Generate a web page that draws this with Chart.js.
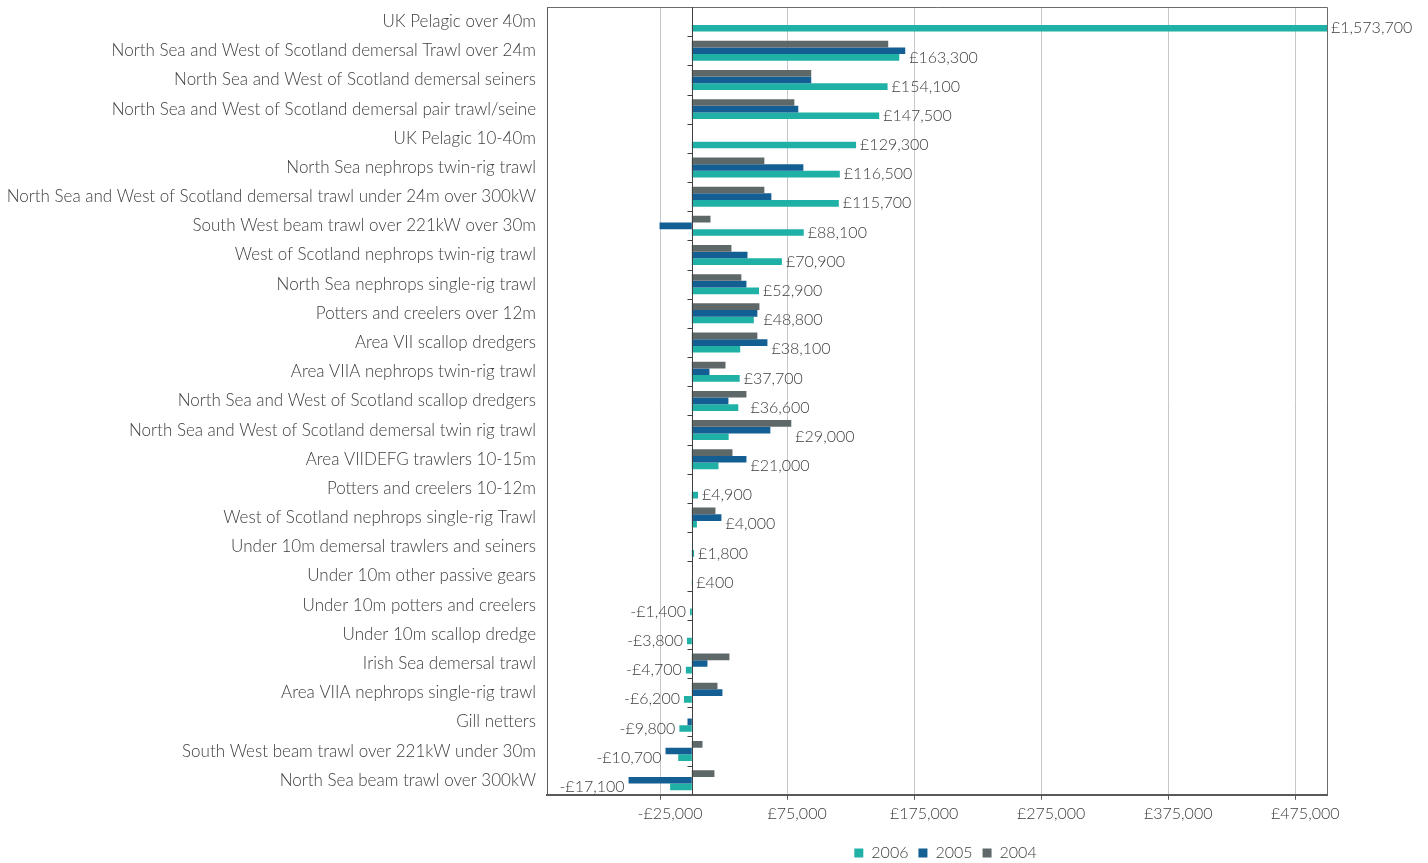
<!DOCTYPE html>
<html>
<head>
<meta charset="utf-8">
<title>Change in earnings by fleet segment</title>
<script src="https://cdn.jsdelivr.net/npm/chart.js"></script>
<style>
  html, body { margin: 0; padding: 0; background: #fff; }
  #wrap { width: 1428px; height: 863px; }
</style>
</head>
<body>
<div id="wrap"><canvas id="chart"></canvas></div>
<script>
// fleet segments, top to bottom as in the source chart
const categories = [
  'UK Pelagic over 40m',
  'North Sea and West of Scotland demersal Trawl over 24m',
  'North Sea and West of Scotland demersal seiners',
  'North Sea and West of Scotland demersal pair trawl/seine',
  'UK Pelagic 10-40m',
  'North Sea nephrops twin-rig trawl',
  'North Sea and West of Scotland demersal trawl under 24m over 300kW',
  'South West beam trawl over 221kW over 30m',
  'West of Scotland nephrops twin-rig trawl',
  'North Sea nephrops single-rig trawl',
  'Potters and creelers over 12m',
  'Area VII scallop dredgers',
  'Area VIIA nephrops twin-rig trawl',
  'North Sea and West of Scotland scallop dredgers',
  'North Sea and West of Scotland demersal twin rig trawl',
  'Area VIIDEFG trawlers 10-15m',
  'Potters and creelers 10-12m',
  'West of Scotland nephrops single-rig Trawl',
  'Under 10m demersal trawlers and seiners',
  'Under 10m other passive gears',
  'Under 10m potters and creelers',
  'Under 10m scallop dredge',
  'Irish Sea demersal trawl',
  'Area VIIA nephrops single-rig trawl',
  'Gill netters',
  'South West beam trawl over 221kW under 30m',
  'North Sea beam trawl over 300kW'
];

const values2006 = [1573700, 163300, 154100, 147500, 129300, 116500, 115700, 88100, 70900, 52900,
  48800, 38100, 37700, 36600, 29000, 21000, 4900, 4000, 1800, 400,
  -1400, -3800, -4700, -6200, -9800, -10700, -17100];
const values2005 = [null, 168000, 94000, 83800, null, 87800, 62600, -25400, 43800, 43000,
  51600, 59500, 13900, 28800, 61800, 43000, null, 23300, null, null,
  null, null, 12300, 24100, -3400, -20700, -49800];
const values2004 = [null, 154600, 94000, 80700, null, 57100, 57100, 14700, 31200, 39000,
  53200, 51600, 26500, 43000, 78300, 32000, null, 18600, null, null,
  null, null, 29600, 20200, null, 8400, 17800];

const seriesNames = ['2004', '2005', '2006'];
const xTicks = [-25000, 75000, 175000, 275000, 375000, 475000];
const xMin = -114000;
const xMax = 500000;

const teal = '#20B1A6';
const blue = '#135E92';
const grey = '#5F6869';
const textGrey = '#404040';
const fontFamily = 'Lato, "Open Sans", sans-serif';

function money(v) {
  return (v < 0 ? '-£' : '£') + Math.abs(v).toLocaleString('en-GB');
}

// plot frame, zero axis with its category ticks
const frame = {
  id: 'frame',
  afterLayout(chart) {
    // legend sits under the plot area rather than the whole canvas
    const lg = chart.legend;
    lg.left = 564;
    lg.right = chart.chartArea.right;
    lg.top += 8;
    lg.bottom += 8;
  },
  beforeDatasetsDraw(chart) {
    const ctx = chart.ctx, a = chart.chartArea;
    ctx.save();
    ctx.strokeStyle = '#6b6b6b';
    ctx.lineWidth = 1;
    ctx.beginPath();
    ctx.moveTo(a.left, a.top + 0.5);
    ctx.lineTo(a.right + 0.5, a.top + 0.5);
    ctx.lineTo(a.right + 0.5, a.bottom);
    ctx.stroke();
    ctx.restore();
  },
  afterDatasetsDraw(chart) {
    const ctx = chart.ctx, a = chart.chartArea;
    const x0 = Math.round(chart.scales.x.getPixelForValue(0)) + 0.5;
    const step = (a.bottom - a.top) / categories.length;
    ctx.save();
    ctx.strokeStyle = '#404040';
    ctx.lineWidth = 1;
    ctx.beginPath();
    ctx.moveTo(x0, a.top);
    ctx.lineTo(x0, a.bottom);
    for (let i = 1; i < categories.length; i++) {
      const y = Math.round(a.top + i * step) + 0.5;
      ctx.moveTo(x0 - 5, y);
      ctx.lineTo(x0, y);
    }
    ctx.stroke();
    ctx.restore();
  }
};

// labels for 2006, pushed past the longest bar of each group
const valueLabels = {
  id: 'valueLabels',
  afterDatasetsDraw(chart) {
    const ctx = chart.ctx, a = chart.chartArea, xs = chart.scales.x;
    const meta = chart.getDatasetMeta(2);
    ctx.save();
    ctx.font = '300 16px ' + fontFamily;
    ctx.fillStyle = textGrey;
    ctx.textBaseline = 'middle';
    meta.data.forEach((bar, i) => {
      const v = values2006[i];
      const ends = [values2004[i], values2005[i], v]
        .filter(d => d !== null)
        .map(d => Math.min(xs.getPixelForValue(d), a.right));
      if (v >= 0) {
        ctx.textAlign = 'left';
        ctx.fillText(money(v), Math.max(...ends) + 4, bar.y);
      } else {
        ctx.textAlign = 'right';
        ctx.fillText(money(v), Math.min(...ends) - 4, bar.y);
      }
    });
    ctx.restore();
  }
};

new Chart(document.getElementById('chart'), {
  type: 'bar',
  data: {
    labels: categories,
    datasets: [
      { label: seriesNames[0], data: values2004, backgroundColor: grey },
      { label: seriesNames[1], data: values2005, backgroundColor: blue },
      { label: seriesNames[2], data: values2006, backgroundColor: teal }
    ]
  },
  options: {
    indexAxis: 'y',
    responsive: true,
    maintainAspectRatio: false,
    animation: false,
    categoryPercentage: 0.685,
    barPercentage: 1,
    layout: { padding: { top: 7, right: 101, left: 0, bottom: 0 } },
    scales: {
      x: {
        min: xMin,
        max: xMax,
        afterBuildTicks: s => { s.ticks = xTicks.map(v => ({ value: v })); },
        grid: { color: '#c3c8cc', tickColor: '#595959', tickLength: 5 },
        border: { color: '#595959', width: 2 },
        ticks: {
          color: textGrey,
          font: { family: fontFamily, size: 16, weight: '300' },
          padding: 4,
          labelOffset: 10,
          maxRotation: 0,
          callback: v => money(v)
        }
      },
      y: {
        afterFit: s => { s.width = 547; s.paddingTop = 0; s.paddingBottom = 0; },
        grid: { display: false },
        border: { color: '#595959', width: 1 },
        ticks: {
          color: textGrey,
          font: { family: fontFamily, size: 17, weight: '300' },
          padding: 3,
          autoSkip: false
        }
      }
    },
    plugins: {
      legend: {
        position: 'bottom',
        reverse: true,
        labels: {
          boxWidth: 9,
          boxHeight: 9,
          padding: 10,
          color: textGrey,
          font: { family: fontFamily, size: 16, weight: '300' }
        }
      },
      tooltip: { enabled: false }
    }
  },
  plugins: [frame, valueLabels]
});
</script>
</body>
</html>
